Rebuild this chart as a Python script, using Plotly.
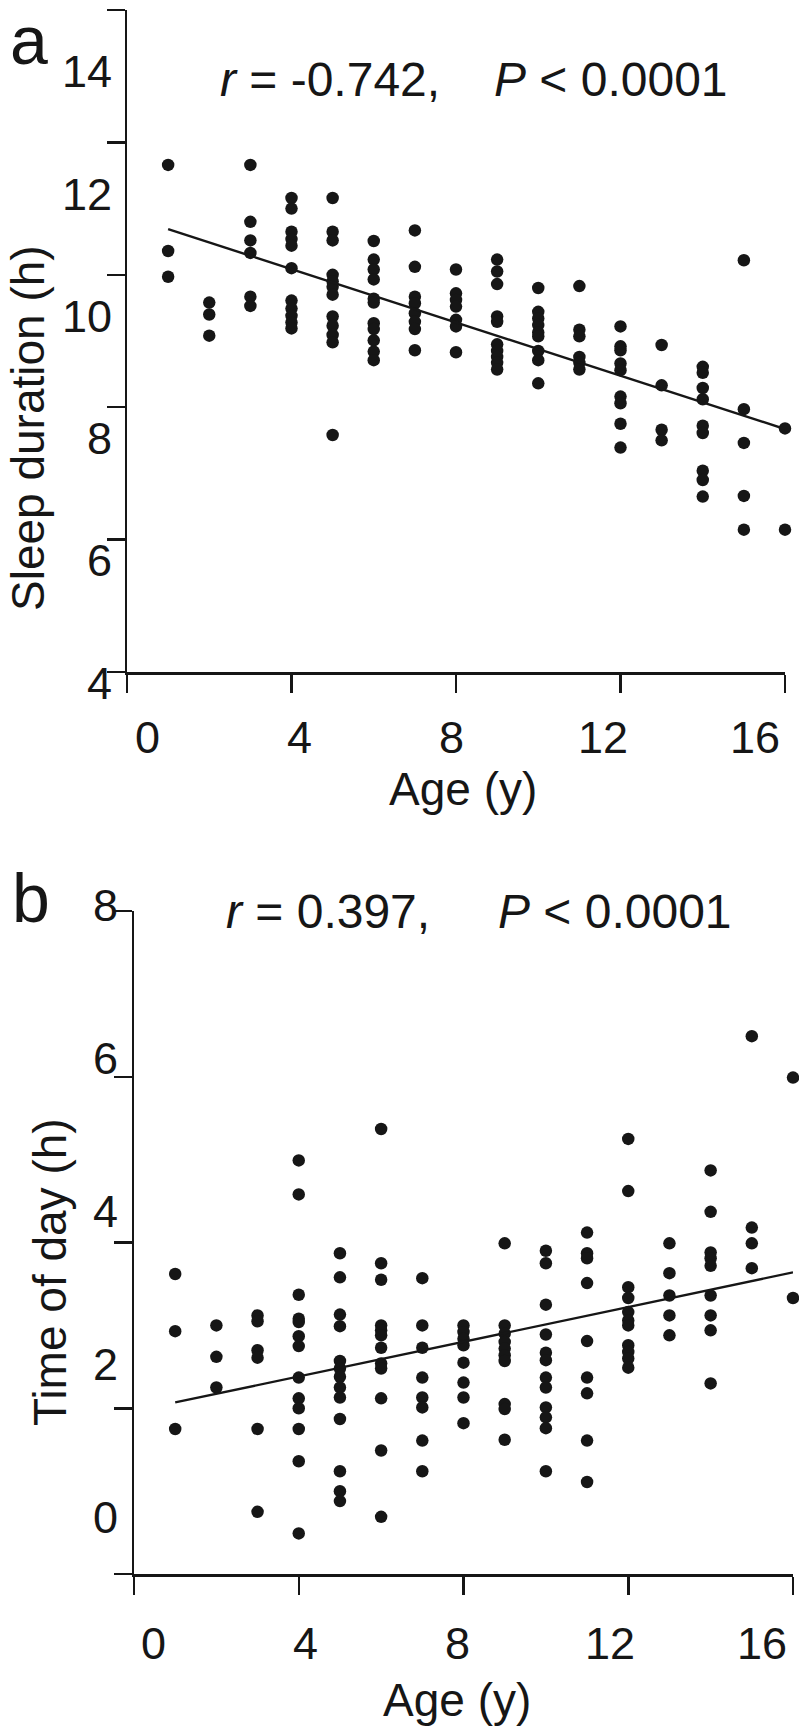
import plotly.graph_objects as go

W, H = 799, 1734

# ---------------- data: panel a (sleep duration vs age) ----------------
age_a = ([1] * 3 + [2] * 3 + [3] * 6 + [4] * 11 + [5] * 12 + [6] * 11 + [7] * 8 + [8] * 7
         + [9] * 10 + [10] * 9 + [11] * 6 + [12] * 9 + [13] * 4 + [14] * 9 + [15] * 5 + [16] * 2)
sleep_h = [
    11.66, 10.36, 9.97,
    9.58, 9.40, 9.08,
    11.66, 10.80, 10.52, 10.33, 9.67, 9.53,
    11.16, 11.00, 10.65, 10.54, 10.44, 10.10, 9.61, 9.49, 9.38, 9.28, 9.19,
    11.16, 10.65, 10.52, 10.00, 9.90, 9.82, 9.70, 9.37, 9.23, 9.09, 8.98, 7.58,
    10.51, 10.23, 10.08, 9.93, 9.64, 9.58, 9.27, 9.18, 9.01, 8.84, 8.71,
    10.67, 10.12, 9.67, 9.57, 9.42, 9.29, 9.18, 8.86,
    10.08, 9.72, 9.62, 9.52, 9.32, 9.22, 8.83,
    10.23, 10.05, 9.86, 9.37, 9.29, 8.95, 8.85, 8.76, 8.67, 8.57,
    9.80, 9.44, 9.34, 9.24, 9.13, 9.07, 8.85, 8.71, 8.36,
    9.83, 9.17, 9.07, 8.76, 8.67, 8.57,
    9.22, 8.92, 8.86, 8.66, 8.56, 8.16, 8.06, 7.75, 7.39,
    8.94, 8.33, 7.66, 7.50,
    8.61, 8.52, 8.29, 8.12, 7.72, 7.61, 7.04, 6.90, 6.65,
    10.22, 7.97, 7.46, 6.66, 6.15,
    7.68, 6.15,
]
fit_a_x = [1, 16]
fit_a_y = [10.69, 7.67]

# ---------------- data: panel b (time of day vs age) ----------------
age_b = ([1] * 3 + [2] * 3 + [3] * 6 + [4] * 13 + [5] * 13 + [6] * 12 + [7] * 8 + [8] * 8
         + [9] * 10 + [10] * 12 + [11] * 9 + [12] * 11 + [13] * 5 + [14] * 9 + [15] * 4 + [16] * 2)
tod_h = [
    3.62, 2.93, 1.75,
    3.00, 2.62, 2.25,
    3.12, 3.05, 2.70, 2.61, 1.75, 0.75,
    4.99, 4.58, 3.37, 3.08, 3.04, 2.87, 2.75, 2.37, 2.12, 2.00, 1.75, 1.36, 0.49,
    3.87, 3.58, 3.13, 2.99, 2.57, 2.48, 2.38, 2.25, 2.13, 1.87, 1.24, 1.00, 0.88,
    5.37, 3.75, 3.55, 3.00, 2.94, 2.88, 2.73, 2.54, 2.48, 2.12, 1.49, 0.69,
    3.57, 3.00, 2.73, 2.37, 2.13, 2.01, 1.61, 1.24,
    3.00, 2.92, 2.84, 2.76, 2.55, 2.31, 2.13, 1.82,
    3.99, 3.00, 2.90, 2.80, 2.72, 2.64, 2.57, 2.05, 1.99, 1.62,
    3.90, 3.75, 3.25, 2.89, 2.67, 2.58, 2.37, 2.25, 2.01, 1.89, 1.76, 1.24,
    4.12, 3.87, 3.81, 3.51, 2.81, 2.37, 2.18, 1.61, 1.11,
    5.25, 4.62, 3.46, 3.33, 3.16, 3.06, 3.00, 2.76, 2.68, 2.60, 2.49,
    3.99, 3.63, 3.36, 3.12, 2.88,
    4.87, 4.37, 3.88, 3.81, 3.72, 3.36, 3.12, 2.94, 2.30,
    6.49, 4.18, 3.99, 3.69,
    5.99, 3.33,
]
fit_b_x = [1, 16]
fit_b_y = [2.07, 3.64]

# ---------------- ticks ----------------
x_ticks = [0, 4, 8, 12, 16]
x_tick_labels = ["0", "4", "8", "12", "16"]
ya_ticks = [4, 6, 8, 10, 12, 14]
ya_tick_labels = ["4", "6", "8", "10", "12", "14"]
yb_ticks = [0, 2, 4, 6, 8]
yb_tick_labels = ["0", "2", "4", "6", "8"]

# ---------------- layout helpers ----------------
FONT = "Liberation Sans, Arial, Helvetica, sans-serif"
INK = "#161616"


def pxx(p):
    return p / W


def pxy(p):
    return 1 - p / H


fig = go.Figure()

for xs, ys, fx, fy, xa, ya in [
    (age_a, sleep_h, fit_a_x, fit_a_y, "x", "y"),
    (age_b, tod_h, fit_b_x, fit_b_y, "x2", "y2"),
]:
    fig.add_trace(go.Scatter(
        x=xs, y=ys, mode="markers", xaxis=xa, yaxis=ya,
        marker=dict(size=12.5, color=INK, line=dict(width=0)),
        cliponaxis=False, hoverinfo="skip"))
    fig.add_trace(go.Scatter(
        x=fx, y=fy, mode="lines", xaxis=xa, yaxis=ya,
        line=dict(color=INK, width=2.4), cliponaxis=False, hoverinfo="skip"))

axis_common = dict(
    showgrid=False, zeroline=False, showline=True, linecolor=INK, linewidth=2.5,
    ticks="outside", ticklen=18, tickwidth=2.5, tickcolor=INK,
    showticklabels=False, fixedrange=True,
)

fig.update_layout(
    width=W, height=H,
    margin=dict(l=0, r=0, t=0, b=0),
    paper_bgcolor="white", plot_bgcolor="white",
    showlegend=False,
    font=dict(family=FONT, color=INK),
    xaxis=dict(domain=[pxx(127), pxx(785)], range=[0, 16], tickvals=x_ticks,
               anchor="y", **axis_common),
    yaxis=dict(domain=[pxy(672), pxy(10)], range=[4, 14], tickvals=ya_ticks,
               anchor="x", **axis_common),
    xaxis2=dict(domain=[pxx(134), pxx(793)], range=[0, 16], tickvals=x_ticks,
                anchor="y2", **axis_common),
    yaxis2=dict(domain=[pxy(1574), pxy(911)], range=[0, 8], tickvals=yb_ticks,
                anchor="x2", **axis_common),
)

ann = []


def text(x, y, s, size, xanchor="center", yanchor="middle", angle=0):
    ann.append(dict(x=pxx(x), y=pxy(y), xref="paper", yref="paper", text=s,
                    showarrow=False, xanchor=xanchor, yanchor=yanchor,
                    textangle=angle, font=dict(size=size, family=FONT, color=INK)))


TICK_FS = 45
# tick labels (the label layer of the original is slightly compressed vs. the marks)
for v, lab in zip(ya_ticks, ya_tick_labels):
    text(114, 683 - (v - 4) * 61.1, lab, TICK_FS, xanchor="right")
for v, lab in zip(x_ticks, x_tick_labels):
    text(147 + v * 38.0, 737, lab, TICK_FS)
for v, lab in zip(yb_ticks, yb_tick_labels):
    text(120, 1517 - v * 76.5, lab, TICK_FS, xanchor="right")
for v, lab in zip(x_ticks, x_tick_labels):
    text(153 + v * 38.06, 1643, lab, TICK_FS)

# axis titles
text(28, 428, "Sleep duration (h)", 46, angle=-90)
text(463, 789, "Age (y)", 46)
text(50, 1272, "Time of day (h)", 46, angle=-90)
text(457, 1700, "Age (y)", 46)

# statistics
text(218, 80, "<i>r</i> = -0.742,", 48, xanchor="left")
text(492, 80, "<i>P</i> < 0.0001", 48, xanchor="left")
text(224, 912, "<i>r</i> = 0.397,", 48, xanchor="left")
text(496, 912, "<i>P</i> < 0.0001", 48, xanchor="left")

# panel letters
text(8, 40, "a", 68, xanchor="left")
text(10, 898, "b", 68, xanchor="left")

fig.update_layout(annotations=ann)
fig.write_html(
    "out.html",
    config={"displayModeBar": False, "staticPlot": True},
    post_script="document.body.style.margin='0';document.body.style.overflow='hidden';",
)
